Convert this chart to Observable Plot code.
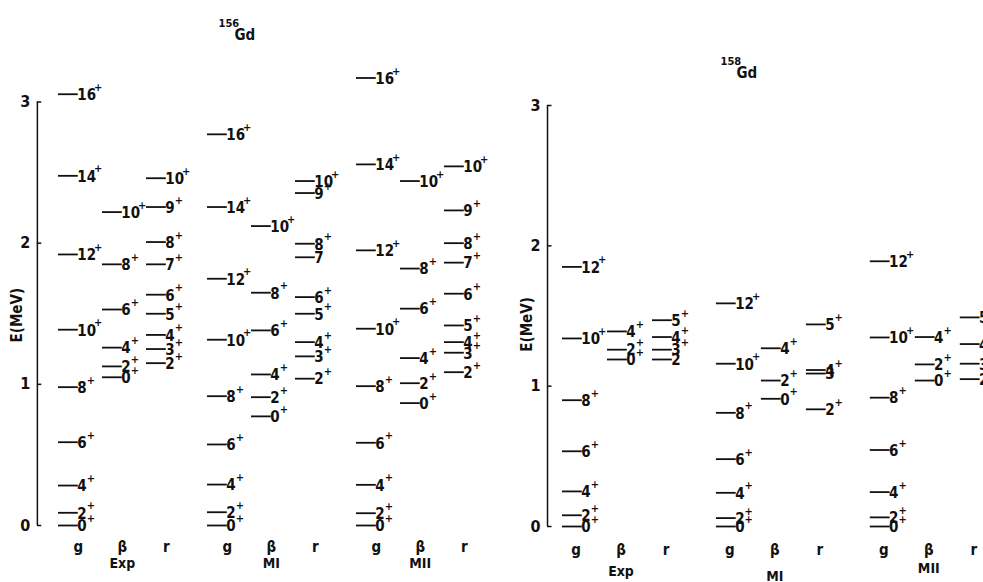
<!DOCTYPE html>
<html><head><meta charset="utf-8">
<script src="https://cdn.jsdelivr.net/npm/d3@7"></script>
<script src="https://cdn.jsdelivr.net/npm/@observablehq/plot@0.6"></script>
<style>
body{margin:0;background:#fff;}
#wrap{display:flex;flex-wrap:nowrap;width:983px;height:582px;overflow:hidden;}
#wrap svg{flex:none;}
</style></head><body><div id="wrap"></div>
<script>
// ---- data: [spin label, energy MeV, has "+"] ----
const models = ["Exp", "MI", "MII"];
const bands = ["g", "β", "r"];
const yTicks = [0, 1, 2, 3];

const gd156_Exp_g = [["0",0,1],["2",0.09,1],["4",0.283,1],["6",0.59,1],["8",0.98,1],["10",1.387,1],["12",1.92,1],["14",2.477,1],["16",3.055,1]];
const gd156_Exp_b = [["0",1.05,1],["2",1.127,1],["4",1.26,1],["6",1.53,1],["8",1.85,1],["10",2.22,1]];
const gd156_Exp_r = [["2",1.15,1],["3",1.25,1],["4",1.35,1],["5",1.50,1],["6",1.635,1],["7",1.85,1],["8",2.008,1],["9",2.256,1],["10",2.46,1]];
const gd156_MI_g  = [["0",0,1],["2",0.094,1],["4",0.29,1],["6",0.574,1],["8",0.916,1],["10",1.316,1],["12",1.748,1],["14",2.256,1],["16",2.771,1]];
const gd156_MI_b  = [["0",0.773,1],["2",0.909,1],["4",1.07,1],["6",1.382,1],["8",1.649,1],["10",2.121,1]];
const gd156_MI_r  = [["2",1.04,1],["3",1.198,1],["4",1.299,1],["5",1.50,1],["6",1.618,1],["7",1.90,0],["8",1.996,1],["9",2.355,1],["10",2.44,1]];
const gd156_MII_g = [["0",0,1],["2",0.087,1],["4",0.288,1],["6",0.586,1],["8",0.987,1],["10",1.394,1],["12",1.949,1],["14",2.558,1],["16",3.17,1]];
const gd156_MII_b = [["0",0.867,1],["2",1.008,1],["4",1.186,1],["6",1.536,1],["8",1.82,1],["10",2.44,1]];
const gd156_MII_r = [["2",1.086,1],["3",1.224,1],["4",1.299,1],["5",1.417,1],["6",1.642,1],["7",1.862,1],["8",2.0,1],["9",2.232,1],["10",2.544,1]];

const gd158_Exp_g = [["0",0,1],["2",0.08,1],["4",0.25,1],["6",0.536,1],["8",0.9,1],["10",1.34,1],["12",1.85,1]];
const gd158_Exp_b = [["0",1.19,1],["2",1.26,1],["4",1.39,1]];
const gd158_Exp_r = [["2",1.19,0],["3",1.26,1],["4",1.35,1],["5",1.47,1]];
const gd158_MI_g  = [["0",0,1],["2",0.06,1],["4",0.24,1],["6",0.48,1],["8",0.81,1],["10",1.16,1],["12",1.59,1]];
const gd158_MI_b  = [["0",0.91,1],["2",1.04,1],["4",1.27,1]];
const gd158_MI_r  = [["2",0.835,1],["3",1.09,0],["4",1.115,1],["5",1.44,1]];
const gd158_MII_g = [["0",0,1],["2",0.065,1],["4",0.245,1],["6",0.545,1],["8",0.918,1],["10",1.347,1],["12",1.89,1]];
const gd158_MII_b = [["0",1.04,1],["2",1.155,1],["4",1.35,1]];
const gd158_MII_r = [["2",1.05,1],["3",1.16,1],["4",1.30,1],["5",1.49,1]];

// ---- build tables ----
function table(cols) {
  const rows = [];
  cols.forEach((bandCols, gi) => bandCols.forEach((lv, ci) => lv.forEach(([spin, E, plus]) =>
    rows.push({gi, ci, spin, E, plus: !!plus}))));
  return rows;
}
const levels156 = table([[gd156_Exp_g, gd156_Exp_b, gd156_Exp_r], [gd156_MI_g, gd156_MI_b, gd156_MI_r], [gd156_MII_g, gd156_MII_b, gd156_MII_r]]);
const levels158 = table([[gd158_Exp_g, gd158_Exp_b, gd158_Exp_r], [gd158_MI_g, gd158_MI_b, gd158_MI_r], [gd158_MII_g, gd158_MII_b, gd158_MII_r]]);

const FONT = "'Liberation Sans Narrow','DejaVu Sans Condensed','Liberation Sans',sans-serif";
const INK = "#111";

function panel(levels, o) {
  const slot = d => d.gi * o.step + d.ci;
  const bandRows = [];
  models.forEach((m, gi) => bands.forEach((b, ci) => bandRows.push({gi, ci, b})));
  const plusMarks = [1, 2].map(n => Plot.text(levels.filter(d => d.plus && d.spin.length === n), {
    x: d => slot(d) + o.len, y: "E", text: () => "+", textAnchor: "start",
    dx: n * 7.4 + 1, dy: -7, fontSize: 11, fontWeight: "bold", fill: INK}));
  const modelMarks = models.map((m, gi) => Plot.text([m], {
    x: () => gi * o.step + 1 + o.bandOff, y: () => 0, text: d => d, dy: o.modelDy[gi], fontSize: 14, fontWeight: 600, fill: INK}));
  return Plot.plot({
    width: o.width, height: 582,
    marginLeft: o.ml, marginRight: o.mr, marginTop: o.mt, marginBottom: o.mb,
    x: {type: "linear", domain: o.xdom, axis: null},
    y: {domain: [0, 3], axis: null},
    style: {fontFamily: FONT, color: INK, background: "#fff"},
    marks: [
      // axis
      Plot.ruleX([o.axis], {y1: 0, y2: 3, stroke: INK, strokeWidth: 1.5}),
      Plot.ruleY(yTicks, {y: d => d, x1: o.axis, x2: o.axis + 0.1, stroke: INK, strokeWidth: 1.5}),
      Plot.text(yTicks, {x: o.axis, y: d => d, text: d => String(d), dx: -7, textAnchor: "end", fontSize: 16, fontWeight: "bold", fill: INK}),
      Plot.text(["E(MeV)"], {x: o.axis, y: o.labelY, text: d => d, rotate: -90, dx: -20, fontSize: 15, fontWeight: 600, fill: INK}),
      // levels
      Plot.ruleY(levels, {y: "E", x1: d => slot(d), x2: d => slot(d) + o.len, stroke: INK, strokeWidth: 1.8}),
      Plot.text(levels, {x: d => slot(d) + o.len, y: "E", text: "spin", textAnchor: "start", dx: -1, dy: 1, fontSize: 15, fontWeight: 600, fill: INK}),
      ...plusMarks,
      // band & model labels
      Plot.text(bandRows, {x: d => d.gi * o.step + d.ci + o.bandOff, y: () => 0, text: "b", dy: o.bandDy, fontSize: 15, fontWeight: 600, fill: INK}),
      ...modelMarks,
      // title
      Plot.text([o.mass], {frameAnchor: "top-left", text: d => d, dx: o.titleDx, dy: o.titleDy - 10, textAnchor: "start", fontSize: 11, fontWeight: 600, fill: INK}),
      Plot.text(["Gd"], {frameAnchor: "top-left", text: d => d, dx: o.titleDx + 16, dy: o.titleDy, textAnchor: "start", fontSize: 15, fontWeight: 600, fill: INK})
    ]
  });
}

const wrap = document.getElementById("wrap");
wrap.append(panel(levels156, {
  width: 500, ml: 14, mr: 2, mt: 101.5, mb: 57, xdom: [-1, 10], step: 3.386, len: 0.45,
  axis: -0.48, labelY: 1.49, bandOff: 0.45, bandDy: 22, modelDy: [38, 38, 38],
  mass: "156", titleDx: 204, titleDy: -73
}));
wrap.append(panel(levels158, {
  width: 483, ml: 17, mr: 0.7, mt: 105, mb: 56, xdom: [-1, 9.34], step: 3.42, len: 0.44,
  axis: -0.333, labelY: 1.44, bandOff: 0.3, bandDy: 24, modelDy: [45, 50, 42],
  mass: "158", titleDx: 203, titleDy: -38
}));
</script></body></html>
